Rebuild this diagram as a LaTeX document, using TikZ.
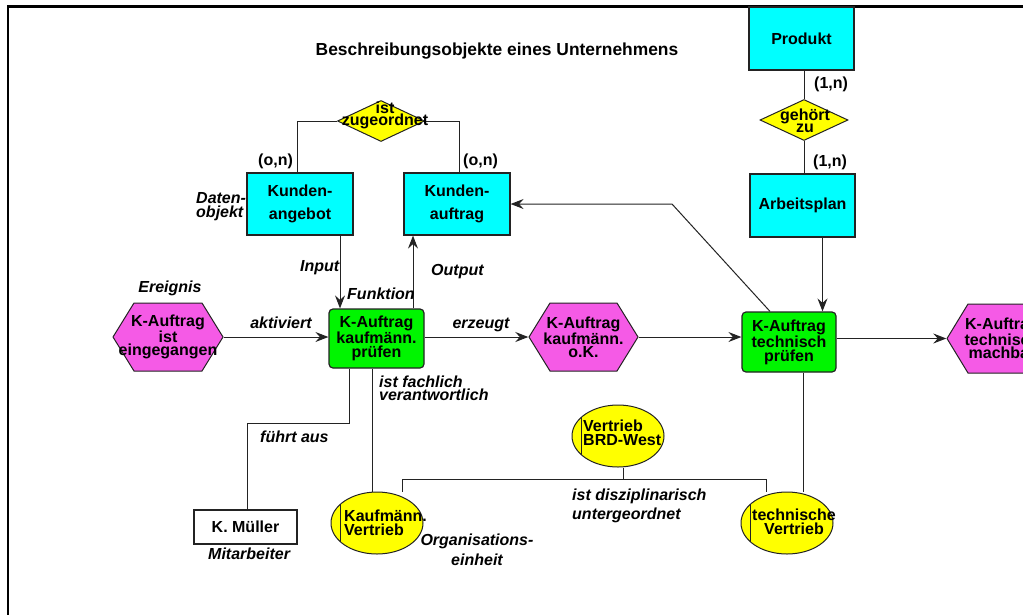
\documentclass[tikz,border=0pt]{standalone}
\usepackage{fontspec}
\setmainfont{Liberation Sans}
\usetikzlibrary{arrows.meta,shapes.geometric,backgrounds}

\definecolor{entcyan}{RGB}{0,255,255}
\definecolor{evpink}{RGB}{245,90,230}
\definecolor{fngreen}{RGB}{0,245,0}
\definecolor{relyellow}{RGB}{255,255,0}
\definecolor{linegray}{RGB}{35,35,35}

\tikzset{
  entity/.style={draw=linegray, line width=1.2pt, fill=entcyan, inner sep=0pt,
    minimum width=105pt, minimum height=63pt, align=center,
    font=\fontsize{16}{23}\selectfont\bfseries},
  relation/.style={shape=diamond, draw=linegray, line width=1pt, fill=relyellow,
    inner sep=0pt, minimum width=88pt, minimum height=41pt},
  reltext/.style={inner sep=0pt, align=center, font=\fontsize{16}{12.5}\selectfont\bfseries},
  % hexagonal event: a rectangle whose inside is painted as a hexagon
  event/.style={inner sep=0pt, minimum width=111pt, minimum height=69pt, align=center,
    font=\fontsize{16}{13}\selectfont\bfseries,
    path picture={\filldraw[fill=evpink, draw=linegray, line width=1pt]
      ([xshift=0.5pt]path picture bounding box.west) --
      ([shift={(21.5pt,-0.5pt)}]path picture bounding box.north west) --
      ([shift={(-21.5pt,-0.5pt)}]path picture bounding box.north east) --
      ([xshift=-0.5pt]path picture bounding box.east) --
      ([shift={(-21.5pt,0.5pt)}]path picture bounding box.south east) --
      ([shift={(21.5pt,0.5pt)}]path picture bounding box.south west) -- cycle;}},
  function/.style={draw=linegray, line width=1.2pt, fill=fngreen, rounded corners=4pt,
    inner sep=0pt, minimum width=95pt, minimum height=59pt, align=center,
    font=\fontsize{16}{14}\selectfont\bfseries},
  person/.style={draw=linegray, line width=1.2pt, fill=white, inner sep=0pt,
    minimum width=103pt, minimum height=34pt, font=\fontsize{16}{14}\selectfont\bfseries},
  orgunit/.style={shape=ellipse, draw=linegray, line width=1pt, fill=relyellow,
    inner sep=0pt, minimum width=92pt, minimum height=62pt,
    path picture={\draw[line width=1pt]
      ([xshift=9pt]path picture bounding box.south west) --
      ([xshift=9pt]path picture bounding box.north west);}},
  orgtext/.style={inner sep=0pt, font=\fontsize{16}{14}\selectfont\bfseries},
  lbl/.style={inner sep=0pt, font=\fontsize{16}{14}\selectfont\bfseries\itshape},
  card/.style={inner sep=0pt, font=\fontsize{16}{14}\selectfont\bfseries},
  conn/.style={draw=linegray, line width=1pt},
  arrow/.style={conn, -{Stealth[length=13pt,width=10pt,inset=4.5pt]}}
}

\begin{document}
\begin{tikzpicture}[x=1pt,y=-1pt]
\useasboundingbox (0,0) rectangle (1023,614);
\clip (0,0) rectangle (1023,614);

% outer frame
\draw[line width=2.5pt] (8,6.5) rectangle (1040,640);

% heading
\node[inner sep=0pt, anchor=base, font=\fontsize{17.4}{20}\selectfont\bfseries] (title)
  at (497,55) {Beschreibungsobjekte eines Unternehmens};

% data objects and relationships
\node[entity] (prod) at (801.5,38.5) {Produkt};
\node[relation] (rel2) at (804,120) {};
\node[reltext] (rel2t) at (805,121) {gehört\\zu};
\node[entity] (plan) at (802.5,205.5) {Arbeitsplan};

\node[entity, minimum width=106pt, minimum height=62pt] (ang) at (300,204) {Kunden-\\angebot};
\node[entity, minimum width=106pt, minimum height=62pt] (auf) at (457,204) {Kunden-\\auftrag};
\node[relation, minimum width=87pt] (rel1) at (381,121) {};
\node[reltext] (rel1t) at (385,115.5) {ist\\zugeordnet};

% process chain
\node[event] (ev1) at (168,337) {K-Auftrag\\ist\\eingegangen};
\node[function] (f1) at (376.5,338.5) {K-Auftrag\\kaufmänn.\\prüfen};
\node[event, minimum width=110pt] (ev2) at (583.5,337) {K-Auftrag\\kaufmänn.\\o.K.};
\node[function, minimum width=94pt, minimum height=60pt] (f2) at (789,342) {K-Auftrag\\technisch\\prüfen};
\node[event, minimum height=70pt] (ev3) at (1002,338.5) {K-Auftrag\\technisch\\machbar};

% staff and organisational units
\node[person] (mue) at (245.5,527) {K. Müller};
\node[orgunit] (org1) at (377,523) {};
\node[orgunit] (org0) at (618,436) {};
\node[orgunit] (org2) at (787,523) {};
\node[orgtext, align=left, anchor=west] (org1t) at (344,522.5) {Kaufmänn.\\Vertrieb};
\node[orgtext, align=left, anchor=west] (org0t) at (583,433) {Vertrieb\\BRD-West};
\node[orgtext, align=center] (org2t) at (794,522) {technische\\Vertrieb};

% cardinalities
\node[card, anchor=base west] (c1) at (258,165) {(o,n)};
\node[card, anchor=base west] (c2) at (463,165) {(o,n)};
\node[card, anchor=base west] (c3) at (814,88) {(1,n)};
\node[card, anchor=base west] (c4) at (813,166) {(1,n)};

% italic annotations
\node[lbl, anchor=base] (lev) at (170,292) {Ereignis};
\node[lbl, anchor=base] (lakt) at (281,328) {aktiviert};
\node[lbl, anchor=base] (lerz) at (481,328) {erzeugt};
\node[lbl, anchor=base west] (lfkt) at (347,299) {Funktion};
\node[lbl, anchor=base west] (lin) at (300,271) {Input};
\node[lbl, anchor=base west] (lout) at (431,275) {Output};
\node[lbl, anchor=north west, align=left] (ldat) at (196,192) {Daten-\\objekt};
\node[lbl, anchor=north west, align=left, font=\fontsize{16}{13}\selectfont\bfseries\itshape]
  (lfach) at (379,375.5) {ist fachlich\\verantwortlich};
\node[lbl, anchor=base west] (lfue) at (260,442) {führt aus};
\node[lbl, anchor=base west] (lmit) at (208,559) {Mitarbeiter};
\node[lbl, anchor=north, align=center, font=\fontsize{16}{20}\selectfont\bfseries\itshape]
  (lorg) at (477,533.5) {Organisations-\\einheit};
\node[lbl, anchor=north west, align=left, font=\fontsize{16}{19}\selectfont\bfseries\itshape]
  (ldis) at (572,488.5) {ist disziplinarisch\\untergeordnet};

% connectors, laid beneath the shapes
\begin{pgfonlayer}{background}
  \fill[white] (0,0) rectangle (1023,614);

  \draw[conn] (rel2.north |- prod.south) -- (rel2.north);
  \draw[conn] (rel2.south) -- (rel2.south |- plan.north);
  \draw[conn] (rel1.west) -| ([xshift=-3pt]ang.north);
  \draw[conn] (rel1.east) -| ([xshift=2pt]auf.north);

  \draw[arrow] ([xshift=40pt]ang.south) -- ([xshift=40pt]ang.south |- f1.north);
  \draw[arrow] ([xshift=-44pt]auf.south |- f1.north) -- ([xshift=-44pt]auf.south);

  \draw[arrow] (ev1.east) -- (ev1.east -| f1.west);
  \draw[arrow] (ev2.west -| f1.east) -- (ev2.west);
  \draw[arrow] (ev2.east) -- (ev2.east -| f2.west);
  \draw[arrow] (f2.east |- ev3.west) -- (ev3.west);

  \draw[arrow] ([xshift=20pt]plan.south) -- ([xshift=20pt]plan.south |- f2.north);
  \coordinate (bend) at (672,204);
  \draw[arrow] ([xshift=-19pt]f2.north) -- (bend) -- (auf.east |- bend);

  \draw[conn] ([xshift=-27.5pt]f1.south) -- ++(0,55) -| ([xshift=1.5pt]mue.north);
  \draw[conn] ([xshift=-4.5pt]f1.south) -- ([xshift=-4.5pt]f1.south |- org1.north);
  \draw[conn] ([xshift=14pt]f2.south) -- ([xshift=14pt]f2.south |- org2.north);

  \draw[conn] ([xshift=5pt]org0.south) -- ++(0,12) coordinate (jn);
  \draw[conn] ([xshift=25pt]org1.north) |- (jn) -| ([xshift=-21pt]org2.north);
\end{pgfonlayer}
\end{tikzpicture}
\end{document}
